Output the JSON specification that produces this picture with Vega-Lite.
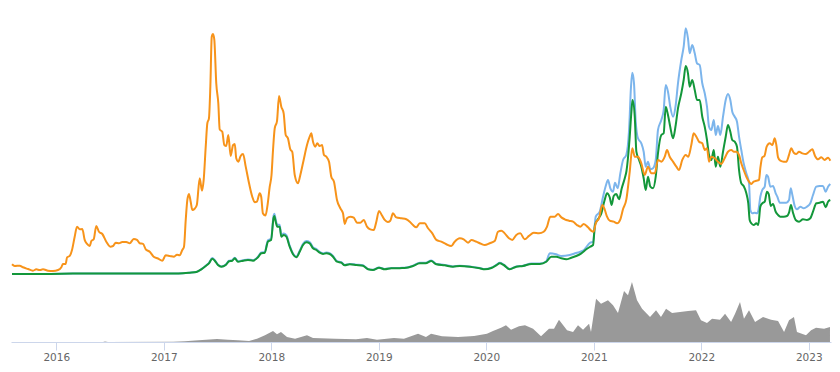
{
  "$schema": "https://vega.github.io/schema/vega-lite/v6.json",
  "width": 820,
  "height": 342,
  "padding": {"left": 8, "top": 0, "right": 12, "bottom": 0},
  "background": "#ffffff",
  "config": {"view": {"stroke": null}},
  "datasets": {
    "volume": [
      {"t": 2015.588, "v": 0}, {"t": 2016.435, "v": 0.1}, {"t": 2016.453, "v": 0.4}, {"t": 2016.481, "v": 0.1},
      {"t": 2017.086, "v": 0.2}, {"t": 2017.197, "v": 0.7}, {"t": 2017.290, "v": 1.5}, {"t": 2017.393, "v": 2.3},
      {"t": 2017.495, "v": 3}, {"t": 2017.597, "v": 2.3}, {"t": 2017.690, "v": 1.7}, {"t": 2017.793, "v": 1},
      {"t": 2017.867, "v": 3.3}, {"t": 2017.941, "v": 6.7}, {"t": 2018.016, "v": 11}, {"t": 2018.053, "v": 7.7},
      {"t": 2018.090, "v": 10}, {"t": 2018.146, "v": 5}, {"t": 2018.221, "v": 3.3}, {"t": 2018.332, "v": 6.7},
      {"t": 2018.388, "v": 4}, {"t": 2018.593, "v": 3.3}, {"t": 2018.788, "v": 2.7}, {"t": 2018.890, "v": 4},
      {"t": 2018.983, "v": 2.3}, {"t": 2019.141, "v": 4}, {"t": 2019.234, "v": 3.3}, {"t": 2019.365, "v": 8.3},
      {"t": 2019.439, "v": 5}, {"t": 2019.486, "v": 8.3}, {"t": 2019.588, "v": 5.7}, {"t": 2019.737, "v": 5},
      {"t": 2019.886, "v": 6}, {"t": 2020.006, "v": 8.3}, {"t": 2020.062, "v": 11}, {"t": 2020.137, "v": 14.3},
      {"t": 2020.183, "v": 16.7}, {"t": 2020.230, "v": 12.3}, {"t": 2020.304, "v": 15.7}, {"t": 2020.360, "v": 16.7},
      {"t": 2020.435, "v": 13.3}, {"t": 2020.509, "v": 5.7}, {"t": 2020.583, "v": 13.3}, {"t": 2020.630, "v": 13.3},
      {"t": 2020.676, "v": 22.3}, {"t": 2020.751, "v": 11.7}, {"t": 2020.807, "v": 10}, {"t": 2020.853, "v": 16.7},
      {"t": 2020.900, "v": 12.3}, {"t": 2020.956, "v": 18.3}, {"t": 2020.974, "v": 10}, {"t": 2021.021, "v": 43.3},
      {"t": 2021.067, "v": 38.3}, {"t": 2021.132, "v": 41.7}, {"t": 2021.179, "v": 36.7}, {"t": 2021.225, "v": 29},
      {"t": 2021.281, "v": 51}, {"t": 2021.318, "v": 46.7}, {"t": 2021.355, "v": 60}, {"t": 2021.402, "v": 41.7},
      {"t": 2021.449, "v": 33.3}, {"t": 2021.523, "v": 25}, {"t": 2021.579, "v": 31.7}, {"t": 2021.625, "v": 25},
      {"t": 2021.672, "v": 33.3}, {"t": 2021.728, "v": 29}, {"t": 2021.802, "v": 30}, {"t": 2021.877, "v": 31},
      {"t": 2021.951, "v": 31.7}, {"t": 2021.997, "v": 21.7}, {"t": 2022.053, "v": 19}, {"t": 2022.100, "v": 23.3},
      {"t": 2022.174, "v": 22.3}, {"t": 2022.221, "v": 28.3}, {"t": 2022.277, "v": 20}, {"t": 2022.314, "v": 28.3},
      {"t": 2022.360, "v": 40}, {"t": 2022.397, "v": 23.3}, {"t": 2022.444, "v": 31.7}, {"t": 2022.500, "v": 20},
      {"t": 2022.574, "v": 25}, {"t": 2022.649, "v": 22.3}, {"t": 2022.714, "v": 21}, {"t": 2022.770, "v": 10},
      {"t": 2022.816, "v": 21.7}, {"t": 2022.862, "v": 25}, {"t": 2022.890, "v": 10}, {"t": 2022.974, "v": 6.7},
      {"t": 2023.021, "v": 11.7}, {"t": 2023.067, "v": 14.3}, {"t": 2023.142, "v": 13.3}, {"t": 2023.197, "v": 15}
    ],
    "eth_usd": [
      {"t": 2015.588, "v": 2}, {"t": 2015.876, "v": 2}, {"t": 2016.155, "v": 8}, {"t": 2016.435, "v": 12},
      {"t": 2016.807, "v": 10}, {"t": 2017.086, "v": 12}, {"t": 2017.179, "v": 17}, {"t": 2017.241, "v": 27},
      {"t": 2017.303, "v": 42}, {"t": 2017.349, "v": 98}, {"t": 2017.390, "v": 166}, {"t": 2017.420, "v": 223},
      {"t": 2017.451, "v": 318}, {"t": 2017.474, "v": 277}, {"t": 2017.504, "v": 187}, {"t": 2017.535, "v": 152},
      {"t": 2017.576, "v": 187}, {"t": 2017.607, "v": 264}, {"t": 2017.637, "v": 277}, {"t": 2017.660, "v": 327},
      {"t": 2017.690, "v": 256}, {"t": 2017.737, "v": 277}, {"t": 2017.783, "v": 291}, {"t": 2017.830, "v": 277},
      {"t": 2017.876, "v": 347}, {"t": 2017.907, "v": 431}, {"t": 2017.939, "v": 443}, {"t": 2017.969, "v": 676},
      {"t": 2017.998, "v": 707}, {"t": 2018.021, "v": 1165}, {"t": 2018.028, "v": 1206}, {"t": 2018.041, "v": 1088},
      {"t": 2018.056, "v": 984}, {"t": 2018.078, "v": 984}, {"t": 2018.093, "v": 776}, {"t": 2018.115, "v": 811},
      {"t": 2018.140, "v": 776}, {"t": 2018.171, "v": 568}, {"t": 2018.202, "v": 410}, {"t": 2018.233, "v": 347},
      {"t": 2018.264, "v": 464}, {"t": 2018.295, "v": 603}, {"t": 2018.326, "v": 659}, {"t": 2018.357, "v": 639},
      {"t": 2018.388, "v": 535}, {"t": 2018.419, "v": 499}, {"t": 2018.450, "v": 443}, {"t": 2018.481, "v": 416},
      {"t": 2018.512, "v": 431}, {"t": 2018.543, "v": 416}, {"t": 2018.574, "v": 360}, {"t": 2018.611, "v": 256},
      {"t": 2018.651, "v": 235}, {"t": 2018.683, "v": 181}, {"t": 2018.730, "v": 202}, {"t": 2018.791, "v": 187},
      {"t": 2018.853, "v": 173}, {"t": 2018.900, "v": 98}, {"t": 2018.946, "v": 83}, {"t": 2019.002, "v": 131},
      {"t": 2019.055, "v": 98}, {"t": 2019.116, "v": 119}, {"t": 2019.179, "v": 119}, {"t": 2019.225, "v": 125},
      {"t": 2019.272, "v": 135}, {"t": 2019.318, "v": 166}, {"t": 2019.381, "v": 223}, {"t": 2019.436, "v": 223},
      {"t": 2019.488, "v": 270}, {"t": 2019.535, "v": 202}, {"t": 2019.613, "v": 181}, {"t": 2019.690, "v": 152},
      {"t": 2019.753, "v": 166}, {"t": 2019.846, "v": 152}, {"t": 2019.939, "v": 119}, {"t": 2019.985, "v": 98},
      {"t": 2020.047, "v": 125}, {"t": 2020.093, "v": 181}, {"t": 2020.125, "v": 223}, {"t": 2020.162, "v": 187},
      {"t": 2020.218, "v": 98}, {"t": 2020.279, "v": 152}, {"t": 2020.342, "v": 166}, {"t": 2020.419, "v": 208},
      {"t": 2020.497, "v": 208}, {"t": 2020.558, "v": 256}, {"t": 2020.590, "v": 414}, {"t": 2020.649, "v": 394},
      {"t": 2020.695, "v": 360}, {"t": 2020.776, "v": 380}, {"t": 2020.834, "v": 420}, {"t": 2020.900, "v": 466},
      {"t": 2020.967, "v": 626}, {"t": 2020.993, "v": 646}, {"t": 2021.018, "v": 1146}, {"t": 2021.055, "v": 1246},
      {"t": 2021.086, "v": 1546}, {"t": 2021.111, "v": 1760}, {"t": 2021.132, "v": 1880}, {"t": 2021.154, "v": 1714},
      {"t": 2021.179, "v": 1646}, {"t": 2021.197, "v": 1826}, {"t": 2021.222, "v": 1714}, {"t": 2021.247, "v": 2014},
      {"t": 2021.272, "v": 2280}, {"t": 2021.302, "v": 2380}, {"t": 2021.328, "v": 2880}, {"t": 2021.346, "v": 3746},
      {"t": 2021.358, "v": 4026}, {"t": 2021.374, "v": 3814}, {"t": 2021.390, "v": 3046}, {"t": 2021.411, "v": 2714},
      {"t": 2021.442, "v": 2614}, {"t": 2021.464, "v": 2446}, {"t": 2021.483, "v": 2146}, {"t": 2021.504, "v": 2246},
      {"t": 2021.526, "v": 2094}, {"t": 2021.551, "v": 2114}, {"t": 2021.576, "v": 2280}, {"t": 2021.597, "v": 2880},
      {"t": 2021.628, "v": 3080}, {"t": 2021.650, "v": 3280}, {"t": 2021.669, "v": 3780}, {"t": 2021.690, "v": 3646},
      {"t": 2021.711, "v": 3346}, {"t": 2021.737, "v": 3146}, {"t": 2021.762, "v": 3380}, {"t": 2021.783, "v": 3814},
      {"t": 2021.814, "v": 4280}, {"t": 2021.836, "v": 4546}, {"t": 2021.855, "v": 4914}, {"t": 2021.876, "v": 4714},
      {"t": 2021.892, "v": 4414}, {"t": 2021.916, "v": 4580}, {"t": 2021.939, "v": 4414}, {"t": 2021.960, "v": 4214},
      {"t": 2021.985, "v": 4180}, {"t": 2022.009, "v": 3814}, {"t": 2022.032, "v": 3614}, {"t": 2022.053, "v": 3346},
      {"t": 2022.072, "v": 2946}, {"t": 2022.093, "v": 2880}, {"t": 2022.116, "v": 3080}, {"t": 2022.134, "v": 2780},
      {"t": 2022.155, "v": 2960}, {"t": 2022.177, "v": 2780}, {"t": 2022.202, "v": 3146}, {"t": 2022.227, "v": 3480},
      {"t": 2022.248, "v": 3600}, {"t": 2022.270, "v": 3480}, {"t": 2022.288, "v": 3246}, {"t": 2022.311, "v": 3146},
      {"t": 2022.332, "v": 3046}, {"t": 2022.351, "v": 2746}, {"t": 2022.372, "v": 2480}, {"t": 2022.394, "v": 2214},
      {"t": 2022.419, "v": 2014}, {"t": 2022.444, "v": 1814}, {"t": 2022.456, "v": 1280}, {"t": 2022.475, "v": 1214},
      {"t": 2022.497, "v": 1226}, {"t": 2022.518, "v": 1214}, {"t": 2022.530, "v": 1260}, {"t": 2022.549, "v": 1546},
      {"t": 2022.567, "v": 1680}, {"t": 2022.590, "v": 1746}, {"t": 2022.605, "v": 1980}, {"t": 2022.621, "v": 1946},
      {"t": 2022.642, "v": 1746}, {"t": 2022.667, "v": 1760}, {"t": 2022.692, "v": 1614}, {"t": 2022.707, "v": 1546},
      {"t": 2022.730, "v": 1426}, {"t": 2022.760, "v": 1426}, {"t": 2022.791, "v": 1426}, {"t": 2022.816, "v": 1480},
      {"t": 2022.832, "v": 1714}, {"t": 2022.847, "v": 1580}, {"t": 2022.869, "v": 1360}, {"t": 2022.890, "v": 1294},
      {"t": 2022.921, "v": 1346}, {"t": 2022.953, "v": 1314}, {"t": 2022.983, "v": 1346}, {"t": 2023.014, "v": 1414},
      {"t": 2023.039, "v": 1580}, {"t": 2023.070, "v": 1746}, {"t": 2023.101, "v": 1760}, {"t": 2023.132, "v": 1760},
      {"t": 2023.157, "v": 1646}, {"t": 2023.179, "v": 1746}, {"t": 2023.200, "v": 1800}
    ],
    "eth_alt": [
      {"t": 2015.588, "v": 2}, {"t": 2015.876, "v": 2}, {"t": 2016.155, "v": 8}, {"t": 2016.435, "v": 12},
      {"t": 2016.807, "v": 10}, {"t": 2017.086, "v": 12}, {"t": 2017.179, "v": 16}, {"t": 2017.241, "v": 26},
      {"t": 2017.303, "v": 40}, {"t": 2017.349, "v": 94}, {"t": 2017.390, "v": 160}, {"t": 2017.420, "v": 214},
      {"t": 2017.451, "v": 306}, {"t": 2017.474, "v": 266}, {"t": 2017.504, "v": 180}, {"t": 2017.535, "v": 146},
      {"t": 2017.576, "v": 180}, {"t": 2017.607, "v": 254}, {"t": 2017.637, "v": 266}, {"t": 2017.660, "v": 314},
      {"t": 2017.690, "v": 246}, {"t": 2017.737, "v": 266}, {"t": 2017.783, "v": 280}, {"t": 2017.830, "v": 266},
      {"t": 2017.876, "v": 334}, {"t": 2017.907, "v": 414}, {"t": 2017.939, "v": 426}, {"t": 2017.969, "v": 650},
      {"t": 2017.998, "v": 680}, {"t": 2018.021, "v": 1120}, {"t": 2018.028, "v": 1160}, {"t": 2018.041, "v": 1046},
      {"t": 2018.056, "v": 946}, {"t": 2018.078, "v": 946}, {"t": 2018.093, "v": 746}, {"t": 2018.115, "v": 780},
      {"t": 2018.140, "v": 746}, {"t": 2018.171, "v": 546}, {"t": 2018.202, "v": 394}, {"t": 2018.233, "v": 334},
      {"t": 2018.264, "v": 446}, {"t": 2018.295, "v": 580}, {"t": 2018.326, "v": 634}, {"t": 2018.357, "v": 614},
      {"t": 2018.388, "v": 514}, {"t": 2018.419, "v": 480}, {"t": 2018.450, "v": 426}, {"t": 2018.481, "v": 400},
      {"t": 2018.512, "v": 414}, {"t": 2018.543, "v": 400}, {"t": 2018.574, "v": 346}, {"t": 2018.611, "v": 246},
      {"t": 2018.651, "v": 226}, {"t": 2018.683, "v": 174}, {"t": 2018.730, "v": 194}, {"t": 2018.791, "v": 180},
      {"t": 2018.853, "v": 166}, {"t": 2018.900, "v": 94}, {"t": 2018.946, "v": 80}, {"t": 2019.002, "v": 126},
      {"t": 2019.055, "v": 94}, {"t": 2019.116, "v": 114}, {"t": 2019.179, "v": 114}, {"t": 2019.225, "v": 120},
      {"t": 2019.272, "v": 130}, {"t": 2019.318, "v": 160}, {"t": 2019.381, "v": 214}, {"t": 2019.436, "v": 214},
      {"t": 2019.488, "v": 260}, {"t": 2019.535, "v": 194}, {"t": 2019.613, "v": 174}, {"t": 2019.690, "v": 146},
      {"t": 2019.753, "v": 160}, {"t": 2019.846, "v": 146}, {"t": 2019.939, "v": 114}, {"t": 2019.985, "v": 94},
      {"t": 2020.047, "v": 120}, {"t": 2020.093, "v": 174}, {"t": 2020.125, "v": 214}, {"t": 2020.162, "v": 180},
      {"t": 2020.218, "v": 94}, {"t": 2020.279, "v": 146}, {"t": 2020.342, "v": 160}, {"t": 2020.419, "v": 200},
      {"t": 2020.497, "v": 200}, {"t": 2020.558, "v": 246}, {"t": 2020.605, "v": 346}, {"t": 2020.651, "v": 346},
      {"t": 2020.698, "v": 314}, {"t": 2020.744, "v": 294}, {"t": 2020.791, "v": 326}, {"t": 2020.837, "v": 360},
      {"t": 2020.884, "v": 414}, {"t": 2020.930, "v": 494}, {"t": 2020.967, "v": 546}, {"t": 2020.993, "v": 580},
      {"t": 2021.011, "v": 980}, {"t": 2021.039, "v": 1094}, {"t": 2021.070, "v": 1214}, {"t": 2021.101, "v": 1480},
      {"t": 2021.123, "v": 1614}, {"t": 2021.148, "v": 1534}, {"t": 2021.166, "v": 1380}, {"t": 2021.185, "v": 1560},
      {"t": 2021.209, "v": 1600}, {"t": 2021.235, "v": 1494}, {"t": 2021.260, "v": 1714}, {"t": 2021.288, "v": 1914},
      {"t": 2021.304, "v": 2060}, {"t": 2021.332, "v": 2680}, {"t": 2021.349, "v": 3220}, {"t": 2021.360, "v": 3480},
      {"t": 2021.381, "v": 3146}, {"t": 2021.396, "v": 2446}, {"t": 2021.421, "v": 2280}, {"t": 2021.442, "v": 2146},
      {"t": 2021.464, "v": 1914}, {"t": 2021.483, "v": 1680}, {"t": 2021.504, "v": 1946}, {"t": 2021.526, "v": 1746},
      {"t": 2021.551, "v": 1714}, {"t": 2021.576, "v": 1946}, {"t": 2021.597, "v": 2414}, {"t": 2021.628, "v": 2780},
      {"t": 2021.650, "v": 2814}, {"t": 2021.669, "v": 3346}, {"t": 2021.690, "v": 3180}, {"t": 2021.711, "v": 2946},
      {"t": 2021.737, "v": 2714}, {"t": 2021.762, "v": 2980}, {"t": 2021.783, "v": 3314}, {"t": 2021.814, "v": 3614},
      {"t": 2021.836, "v": 3880}, {"t": 2021.855, "v": 4160}, {"t": 2021.876, "v": 4014}, {"t": 2021.892, "v": 3746},
      {"t": 2021.916, "v": 3880}, {"t": 2021.939, "v": 3680}, {"t": 2021.960, "v": 3480}, {"t": 2021.985, "v": 3480},
      {"t": 2022.009, "v": 3146}, {"t": 2022.032, "v": 2946}, {"t": 2022.053, "v": 2680}, {"t": 2022.072, "v": 2380},
      {"t": 2022.093, "v": 2280}, {"t": 2022.116, "v": 2480}, {"t": 2022.134, "v": 2146}, {"t": 2022.155, "v": 2346},
      {"t": 2022.177, "v": 2146}, {"t": 2022.202, "v": 2446}, {"t": 2022.227, "v": 2746}, {"t": 2022.248, "v": 2980},
      {"t": 2022.270, "v": 2846}, {"t": 2022.288, "v": 2680}, {"t": 2022.311, "v": 2646}, {"t": 2022.332, "v": 2546},
      {"t": 2022.351, "v": 2080}, {"t": 2022.372, "v": 1814}, {"t": 2022.394, "v": 1760}, {"t": 2022.419, "v": 1614},
      {"t": 2022.437, "v": 1414}, {"t": 2022.450, "v": 1080}, {"t": 2022.465, "v": 1014}, {"t": 2022.487, "v": 980},
      {"t": 2022.512, "v": 1014}, {"t": 2022.530, "v": 980}, {"t": 2022.549, "v": 1346}, {"t": 2022.567, "v": 1414},
      {"t": 2022.590, "v": 1446}, {"t": 2022.611, "v": 1646}, {"t": 2022.627, "v": 1600}, {"t": 2022.646, "v": 1360},
      {"t": 2022.667, "v": 1400}, {"t": 2022.692, "v": 1246}, {"t": 2022.714, "v": 1180}, {"t": 2022.735, "v": 1146},
      {"t": 2022.767, "v": 1146}, {"t": 2022.797, "v": 1160}, {"t": 2022.816, "v": 1226}, {"t": 2022.834, "v": 1380},
      {"t": 2022.853, "v": 1226}, {"t": 2022.878, "v": 1080}, {"t": 2022.909, "v": 1046}, {"t": 2022.946, "v": 1094},
      {"t": 2022.983, "v": 1080}, {"t": 2023.014, "v": 1114}, {"t": 2023.039, "v": 1246}, {"t": 2023.070, "v": 1414},
      {"t": 2023.101, "v": 1426}, {"t": 2023.132, "v": 1446}, {"t": 2023.157, "v": 1334}, {"t": 2023.179, "v": 1446},
      {"t": 2023.200, "v": 1480}
    ],
    "eth_btc": [
      {"t": 2015.588, "v": 0.0061}, {"t": 2015.613, "v": 0.0050}, {"t": 2015.660, "v": 0.0052}, {"t": 2015.690, "v": 0.0042},
      {"t": 2015.737, "v": 0.0031}, {"t": 2015.783, "v": 0.0021}, {"t": 2015.814, "v": 0.0029}, {"t": 2015.846, "v": 0.0025},
      {"t": 2015.876, "v": 0.0029}, {"t": 2015.923, "v": 0.0021}, {"t": 2015.969, "v": 0.0019}, {"t": 2016.016, "v": 0.0025},
      {"t": 2016.047, "v": 0.0042}, {"t": 2016.062, "v": 0.0063}, {"t": 2016.087, "v": 0.0063}, {"t": 2016.100, "v": 0.0104},
      {"t": 2016.125, "v": 0.0113}, {"t": 2016.146, "v": 0.0150}, {"t": 2016.171, "v": 0.0233}, {"t": 2016.193, "v": 0.0296},
      {"t": 2016.218, "v": 0.0279}, {"t": 2016.242, "v": 0.0281}, {"t": 2016.264, "v": 0.0213}, {"t": 2016.286, "v": 0.0188},
      {"t": 2016.311, "v": 0.0175}, {"t": 2016.326, "v": 0.0206}, {"t": 2016.348, "v": 0.0217}, {"t": 2016.372, "v": 0.0300},
      {"t": 2016.397, "v": 0.0264}, {"t": 2016.428, "v": 0.0250}, {"t": 2016.465, "v": 0.0202}, {"t": 2016.502, "v": 0.0171},
      {"t": 2016.528, "v": 0.0175}, {"t": 2016.553, "v": 0.0196}, {"t": 2016.583, "v": 0.0192}, {"t": 2016.614, "v": 0.0200},
      {"t": 2016.651, "v": 0.0200}, {"t": 2016.683, "v": 0.0192}, {"t": 2016.720, "v": 0.0219}, {"t": 2016.751, "v": 0.0213},
      {"t": 2016.776, "v": 0.0192}, {"t": 2016.807, "v": 0.0188}, {"t": 2016.832, "v": 0.0154}, {"t": 2016.869, "v": 0.0139},
      {"t": 2016.906, "v": 0.0108}, {"t": 2016.946, "v": 0.0097}, {"t": 2016.986, "v": 0.0083}, {"t": 2017.018, "v": 0.0117},
      {"t": 2017.055, "v": 0.0113}, {"t": 2017.095, "v": 0.0108}, {"t": 2017.123, "v": 0.0121}, {"t": 2017.148, "v": 0.0117},
      {"t": 2017.172, "v": 0.0150}, {"t": 2017.188, "v": 0.0171}, {"t": 2017.204, "v": 0.0338}, {"t": 2017.219, "v": 0.0463},
      {"t": 2017.234, "v": 0.0500}, {"t": 2017.250, "v": 0.0452}, {"t": 2017.265, "v": 0.0400}, {"t": 2017.287, "v": 0.0408},
      {"t": 2017.307, "v": 0.0431}, {"t": 2017.334, "v": 0.0598}, {"t": 2017.355, "v": 0.0521}, {"t": 2017.371, "v": 0.0588},
      {"t": 2017.390, "v": 0.0796}, {"t": 2017.405, "v": 0.0942}, {"t": 2017.420, "v": 0.0973}, {"t": 2017.433, "v": 0.1171},
      {"t": 2017.446, "v": 0.1483}, {"t": 2017.458, "v": 0.1500}, {"t": 2017.470, "v": 0.1463}, {"t": 2017.488, "v": 0.1192},
      {"t": 2017.507, "v": 0.1067}, {"t": 2017.520, "v": 0.0904}, {"t": 2017.544, "v": 0.0889}, {"t": 2017.563, "v": 0.0806},
      {"t": 2017.581, "v": 0.0800}, {"t": 2017.600, "v": 0.0869}, {"t": 2017.622, "v": 0.0738}, {"t": 2017.644, "v": 0.0806},
      {"t": 2017.660, "v": 0.0813}, {"t": 2017.674, "v": 0.0723}, {"t": 2017.693, "v": 0.0702}, {"t": 2017.715, "v": 0.0738},
      {"t": 2017.737, "v": 0.0750}, {"t": 2017.762, "v": 0.0671}, {"t": 2017.793, "v": 0.0567}, {"t": 2017.823, "v": 0.0483},
      {"t": 2017.846, "v": 0.0448}, {"t": 2017.866, "v": 0.0452}, {"t": 2017.892, "v": 0.0504}, {"t": 2017.906, "v": 0.0483},
      {"t": 2017.922, "v": 0.0379}, {"t": 2017.946, "v": 0.0366}, {"t": 2017.965, "v": 0.0431}, {"t": 2017.985, "v": 0.0544},
      {"t": 2018.002, "v": 0.0619}, {"t": 2018.016, "v": 0.0775}, {"t": 2018.032, "v": 0.0911}, {"t": 2018.053, "v": 0.0956},
      {"t": 2018.072, "v": 0.1113}, {"t": 2018.093, "v": 0.1046}, {"t": 2018.115, "v": 0.1004}, {"t": 2018.134, "v": 0.0869},
      {"t": 2018.155, "v": 0.0848}, {"t": 2018.177, "v": 0.0779}, {"t": 2018.195, "v": 0.0764}, {"t": 2018.218, "v": 0.0619},
      {"t": 2018.248, "v": 0.0567}, {"t": 2018.270, "v": 0.0619}, {"t": 2018.301, "v": 0.0713}, {"t": 2018.332, "v": 0.0806},
      {"t": 2018.357, "v": 0.0858}, {"t": 2018.372, "v": 0.0879}, {"t": 2018.388, "v": 0.0827}, {"t": 2018.409, "v": 0.0796},
      {"t": 2018.428, "v": 0.0817}, {"t": 2018.450, "v": 0.0800}, {"t": 2018.472, "v": 0.0806}, {"t": 2018.490, "v": 0.0744},
      {"t": 2018.512, "v": 0.0733}, {"t": 2018.537, "v": 0.0702}, {"t": 2018.558, "v": 0.0608}, {"t": 2018.583, "v": 0.0577},
      {"t": 2018.611, "v": 0.0463}, {"t": 2018.642, "v": 0.0411}, {"t": 2018.667, "v": 0.0379}, {"t": 2018.683, "v": 0.0313},
      {"t": 2018.704, "v": 0.0348}, {"t": 2018.735, "v": 0.0358}, {"t": 2018.767, "v": 0.0352}, {"t": 2018.797, "v": 0.0321},
      {"t": 2018.828, "v": 0.0321}, {"t": 2018.860, "v": 0.0338}, {"t": 2018.890, "v": 0.0296}, {"t": 2018.921, "v": 0.0279},
      {"t": 2018.953, "v": 0.0275}, {"t": 2018.977, "v": 0.0327}, {"t": 2019.002, "v": 0.0394}, {"t": 2019.027, "v": 0.0369},
      {"t": 2019.055, "v": 0.0338}, {"t": 2019.083, "v": 0.0325}, {"t": 2019.107, "v": 0.0333}, {"t": 2019.132, "v": 0.0379},
      {"t": 2019.163, "v": 0.0354}, {"t": 2019.209, "v": 0.0348}, {"t": 2019.256, "v": 0.0342}, {"t": 2019.288, "v": 0.0327},
      {"t": 2019.318, "v": 0.0306}, {"t": 2019.349, "v": 0.0292}, {"t": 2019.381, "v": 0.0317}, {"t": 2019.427, "v": 0.0317},
      {"t": 2019.458, "v": 0.0286}, {"t": 2019.498, "v": 0.0254}, {"t": 2019.535, "v": 0.0213}, {"t": 2019.581, "v": 0.0202},
      {"t": 2019.628, "v": 0.0186}, {"t": 2019.674, "v": 0.0175}, {"t": 2019.706, "v": 0.0202}, {"t": 2019.753, "v": 0.0223},
      {"t": 2019.790, "v": 0.0217}, {"t": 2019.830, "v": 0.0196}, {"t": 2019.861, "v": 0.0213}, {"t": 2019.907, "v": 0.0202},
      {"t": 2019.954, "v": 0.0188}, {"t": 2019.985, "v": 0.0181}, {"t": 2020.032, "v": 0.0192}, {"t": 2020.078, "v": 0.0206},
      {"t": 2020.109, "v": 0.0264}, {"t": 2020.140, "v": 0.0271}, {"t": 2020.171, "v": 0.0254}, {"t": 2020.211, "v": 0.0223},
      {"t": 2020.242, "v": 0.0213}, {"t": 2020.279, "v": 0.0244}, {"t": 2020.316, "v": 0.0254}, {"t": 2020.357, "v": 0.0217},
      {"t": 2020.397, "v": 0.0238}, {"t": 2020.441, "v": 0.0258}, {"t": 2020.490, "v": 0.0254}, {"t": 2020.534, "v": 0.0264},
      {"t": 2020.565, "v": 0.0296}, {"t": 2020.595, "v": 0.0358}, {"t": 2020.636, "v": 0.0358}, {"t": 2020.667, "v": 0.0375},
      {"t": 2020.698, "v": 0.0354}, {"t": 2020.729, "v": 0.0342}, {"t": 2020.769, "v": 0.0333}, {"t": 2020.807, "v": 0.0327},
      {"t": 2020.844, "v": 0.0306}, {"t": 2020.874, "v": 0.0296}, {"t": 2020.906, "v": 0.0313}, {"t": 2020.946, "v": 0.0292},
      {"t": 2020.975, "v": 0.0271}, {"t": 2020.999, "v": 0.0264}, {"t": 2021.018, "v": 0.0317}, {"t": 2021.048, "v": 0.0348},
      {"t": 2021.079, "v": 0.0431}, {"t": 2021.101, "v": 0.0404}, {"t": 2021.123, "v": 0.0358}, {"t": 2021.148, "v": 0.0333},
      {"t": 2021.185, "v": 0.0327}, {"t": 2021.216, "v": 0.0317}, {"t": 2021.247, "v": 0.0342}, {"t": 2021.272, "v": 0.0406},
      {"t": 2021.302, "v": 0.0463}, {"t": 2021.334, "v": 0.0638}, {"t": 2021.358, "v": 0.0786}, {"t": 2021.381, "v": 0.0733},
      {"t": 2021.411, "v": 0.0733}, {"t": 2021.442, "v": 0.0692}, {"t": 2021.474, "v": 0.0619}, {"t": 2021.504, "v": 0.0671},
      {"t": 2021.535, "v": 0.0629}, {"t": 2021.567, "v": 0.0629}, {"t": 2021.597, "v": 0.0713}, {"t": 2021.628, "v": 0.0702},
      {"t": 2021.660, "v": 0.0733}, {"t": 2021.681, "v": 0.0775}, {"t": 2021.706, "v": 0.0733}, {"t": 2021.737, "v": 0.0702},
      {"t": 2021.768, "v": 0.0671}, {"t": 2021.793, "v": 0.0650}, {"t": 2021.823, "v": 0.0713}, {"t": 2021.855, "v": 0.0744},
      {"t": 2021.879, "v": 0.0733}, {"t": 2021.907, "v": 0.0806}, {"t": 2021.929, "v": 0.0879}, {"t": 2021.954, "v": 0.0858},
      {"t": 2021.979, "v": 0.0827}, {"t": 2022.009, "v": 0.0817}, {"t": 2022.032, "v": 0.0775}, {"t": 2022.053, "v": 0.0786},
      {"t": 2022.072, "v": 0.0702}, {"t": 2022.093, "v": 0.0733}, {"t": 2022.125, "v": 0.0723}, {"t": 2022.155, "v": 0.0702},
      {"t": 2022.186, "v": 0.0688}, {"t": 2022.217, "v": 0.0723}, {"t": 2022.248, "v": 0.0764}, {"t": 2022.279, "v": 0.0775},
      {"t": 2022.304, "v": 0.0764}, {"t": 2022.326, "v": 0.0764}, {"t": 2022.351, "v": 0.0744}, {"t": 2022.372, "v": 0.0692},
      {"t": 2022.394, "v": 0.0650}, {"t": 2022.419, "v": 0.0608}, {"t": 2022.444, "v": 0.0577}, {"t": 2022.465, "v": 0.0563},
      {"t": 2022.487, "v": 0.0577}, {"t": 2022.512, "v": 0.0583}, {"t": 2022.537, "v": 0.0588}, {"t": 2022.549, "v": 0.0661},
      {"t": 2022.567, "v": 0.0729}, {"t": 2022.588, "v": 0.0738}, {"t": 2022.608, "v": 0.0796}, {"t": 2022.636, "v": 0.0817},
      {"t": 2022.661, "v": 0.0806}, {"t": 2022.683, "v": 0.0848}, {"t": 2022.698, "v": 0.0806}, {"t": 2022.714, "v": 0.0729},
      {"t": 2022.735, "v": 0.0708}, {"t": 2022.767, "v": 0.0702}, {"t": 2022.791, "v": 0.0702}, {"t": 2022.816, "v": 0.0744},
      {"t": 2022.837, "v": 0.0786}, {"t": 2022.860, "v": 0.0758}, {"t": 2022.884, "v": 0.0750}, {"t": 2022.909, "v": 0.0764},
      {"t": 2022.940, "v": 0.0754}, {"t": 2022.971, "v": 0.0750}, {"t": 2023.002, "v": 0.0764}, {"t": 2023.033, "v": 0.0779},
      {"t": 2023.058, "v": 0.0738}, {"t": 2023.086, "v": 0.0717}, {"t": 2023.116, "v": 0.0729}, {"t": 2023.148, "v": 0.0713},
      {"t": 2023.179, "v": 0.0727}, {"t": 2023.200, "v": 0.0708}
    ]
  },
  "encoding": {
    "x": {
      "field": "t",
      "type": "quantitative",
      "title": null,
      "scale": {"domain": [2015.5786, 2023.2065], "nice": false, "zero": false},
      "axis": {
        "values": [2016, 2017, 2018, 2019, 2020, 2021, 2022, 2023],
        "format": "d",
        "grid": false,
        "domainColor": "#ccd6eb",
        "domainWidth": 1,
        "tickColor": "#ccd6eb",
        "tickSize": 8,
        "labelPadding": 2,
        "labelColor": "#666666",
        "labelFont": "DejaVu Sans",
        "labelFontSize": 10.5,
        "labelFlush": false,
        "labelOverlap": false
      }
    }
  },
  "layer": [
    {
      "data": {"name": "volume"},
      "mark": {"type": "area", "color": "#999999", "opacity": 1},
      "encoding": {
        "y": {"field": "v", "type": "quantitative", "axis": null,
              "scale": {"domain": [0, 64], "range": [342, 278], "nice": false, "zero": true}}
      }
    },
    {
      "data": {"name": "eth_usd"},
      "mark": {"type": "line", "color": "#7cb5ec", "strokeWidth": 2, "interpolate": "monotone"},
      "encoding": {
        "y": {"field": "v", "type": "quantitative", "axis": null,
              "scale": {"domain": [0, 5000], "range": [274, 24], "nice": false, "zero": true}}
      }
    },
    {
      "data": {"name": "eth_alt"},
      "mark": {"type": "line", "color": "#13973a", "strokeWidth": 2, "interpolate": "monotone"},
      "encoding": {
        "y": {"field": "v", "type": "quantitative", "axis": null,
              "scale": {"domain": [0, 5000], "range": [274, 24], "nice": false, "zero": true}}
      }
    },
    {
      "data": {"name": "eth_btc"},
      "mark": {"type": "line", "color": "#f7931a", "strokeWidth": 2, "interpolate": "monotone"},
      "encoding": {
        "y": {"field": "v", "type": "quantitative", "axis": null,
              "scale": {"domain": [0, 0.16], "range": [274, 18], "nice": false, "zero": true}}
      }
    }
  ],
  "resolve": {"scale": {"y": "independent"}}
}
